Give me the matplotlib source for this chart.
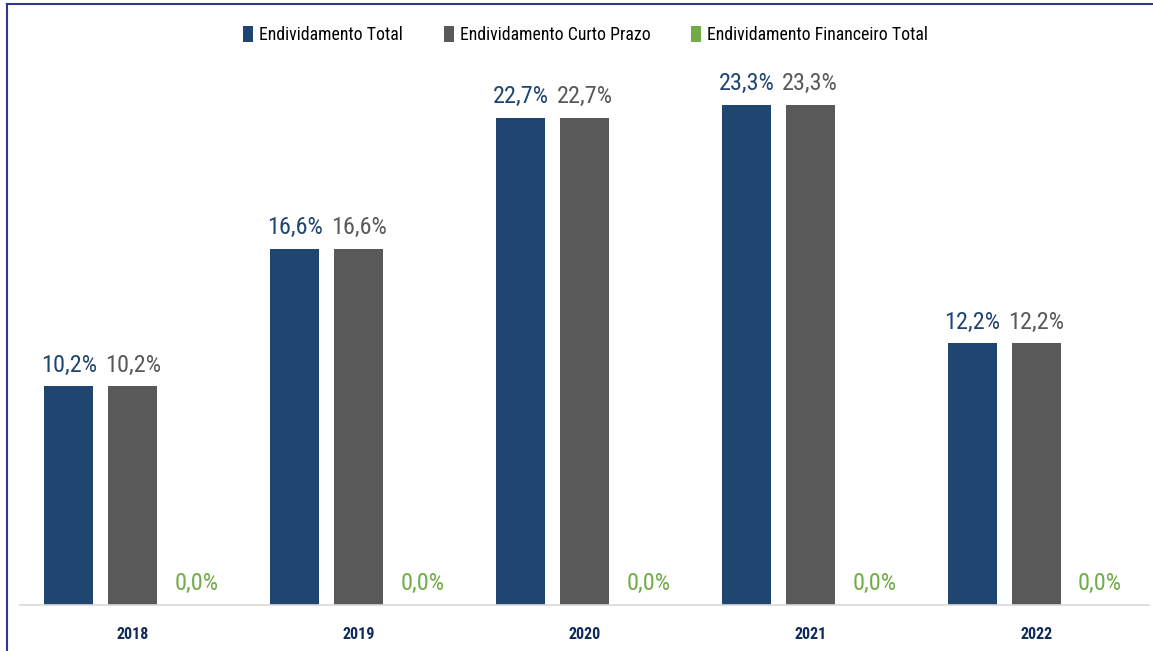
import numpy as np
import matplotlib.pyplot as plt
from matplotlib.lines import Line2D

plt.rcParams['font.family'] = ['Roboto Condensed', 'Liberation Sans Narrow', 'Roboto', 'DejaVu Sans']

anos = ['2018', '2019', '2020', '2021', '2022']
end_total = [10.2, 16.6, 22.7, 23.3, 12.2]
end_curto = [10.2, 16.6, 22.7, 23.3, 12.2]
end_financeiro = [0.0, 0.0, 0.0, 0.0, 0.0]
series_nomes = ['Endividamento Total', 'Endividamento Curto Prazo', 'Endividamento Financeiro Total']

cores = ['#1F4571', '#595959', '#70AD47']

fig = plt.figure(figsize=(11.53, 6.51), dpi=100)
ax = fig.add_axes([20 / 1153, 46 / 651, 1129 / 1153, 590 / 651])

x = np.arange(len(anos))
w = 0.217
passo = 0.283
for i, (vals, cor) in enumerate(zip([end_total, end_curto, end_financeiro], cores)):
    pos = x + (i - 1) * passo
    ax.bar(pos, vals, width=w, color=cor, label=series_nomes[i])
    for p, v in zip(pos, vals):
        ax.text(p, v + 0.45, f'{v:.1f}%'.replace('.', ','), ha='center', va='bottom',
                fontsize=17.5, color=cor)

ax.set_xlim(-0.5, 4.5)
ax.set_ylim(0, 27.5)
ax.set_yticks([])
ax.set_xticks(x)
ax.set_xticklabels(anos, fontsize=11.5, fontweight='bold', color='#0E2A5C')
ax.tick_params(axis='x', length=0, pad=16)
for s in ['top', 'right', 'left']:
    ax.spines[s].set_visible(False)
ax.spines['bottom'].set_color('#D9D9D9')
ax.spines['bottom'].set_linewidth(1.2)

leg = fig.legend(loc='upper center', bbox_to_anchor=(0.508, 0.985), ncol=3, frameon=False,
                 fontsize=12.8, handlelength=0.55, handleheight=1.0, handletextpad=0.35,
                 columnspacing=2.3)

# moldura
fig.add_artist(Line2D([7 / 1153, 7 / 1153], [0, 1 - 4 / 651], color='#2E3A87', lw=1.5))
fig.add_artist(Line2D([7 / 1153, 1], [1 - 4 / 651, 1 - 4 / 651], color='#2E3A87', lw=1.5))

fig.savefig('out.png', dpi=100)
